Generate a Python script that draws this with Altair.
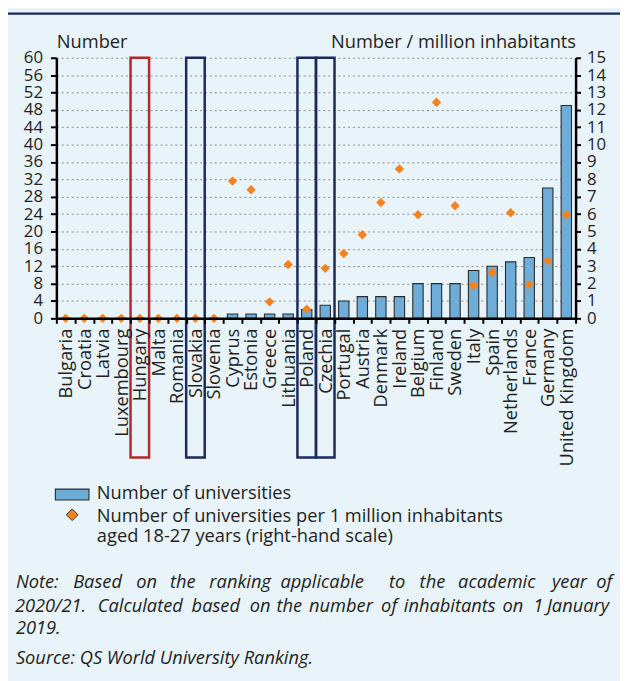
import altair as alt
import pandas as pd

# ---------------- data ----------------
countries = ["Bulgaria", "Croatia", "Latvia", "Luxembourg", "Hungary", "Malta",
             "Romania", "Slovakia", "Slovenia", "Cyprus", "Estonia", "Greece",
             "Lithuania", "Poland", "Czechia", "Portugal", "Austria", "Denmark",
             "Ireland", "Belgium", "Finland", "Sweden", "Italy", "Spain",
             "Netherlands", "France", "Germany", "United Kingdom"]
universities = [0, 0, 0, 0, 0, 0, 0, 0, 0, 1, 1, 1, 1, 2, 3, 4, 5, 5, 5,
                8, 8, 8, 11, 12, 13, 14, 30, 49]
per_million = [0, 0, 0, 0, 0, 0, 0, 0, 0, 7.9, 7.4, 0.95, 3.1, 0.53, 2.88,
               3.73, 4.81, 6.67, 8.6, 5.97, 12.44, 6.48, 1.89, 2.65, 6.08,
               1.95, 3.31, 5.97]
left_ticks = list(range(0, 61, 4))
right_ticks = list(range(0, 16))
red_boxed = ["Hungary"]
navy_boxed = ["Slovakia", "Poland", "Czechia"]

left_title = "Number"
right_title = "Number / million inhabitants"
legend_bar = "Number of universities"
legend_pt = ["Number of universities per 1 million inhabitants",
             "aged 18-27 years (right-hand scale)"]
note_line1 = ["Note:", "Based", "on", "the", "ranking", "applicable", "to",
              "the", "academic", "year", "of"]
note_line2 = ["2020/21.", "Calculated", "based", "on", "the", "number", "of",
              "inhabitants", "on", "1", "January"]
note_line3 = "2019."
source_line = "Source: QS World University Ranking."

df = pd.DataFrame({"country": countries, "universities": universities,
                   "per_million": per_million})

# ---------------- layout / style ----------------
W, H = 526, 264
PAD_L, PAD_T = 49, 46
VIEW_W, VIEW_H = 620, 673
PAD_R = VIEW_W - PAD_L - W
PAD_B = VIEW_H - PAD_T - H
BG = "#e8f3fa"
BAR = "#6fadd9"
ORANGE = "#f5821f"
NAVY = "#1b2a5e"
RED = "#b3282d"
TXT = "#231f20"
FONT = "Open Sans"
FS = 18.5
YFS = 17

x_enc = alt.X("country:N", sort=countries,
              scale=alt.Scale(paddingInner=0, paddingOuter=0),
              axis=alt.Axis(title=None, labelAngle=-90, labelFontSize=FS,
                            labelPadding=5, tickBand="extent", tickSize=5,
                            tickWidth=2, tickColor="black", domainColor="black",
                            domainWidth=2.5, labelColor=TXT, grid=False,
                            labelOverlap=False))

base = alt.Chart(df)

red_boxes = base.transform_filter(
    alt.FieldOneOfPredicate(field="country", oneOf=red_boxed)
).mark_rect(fillOpacity=0, stroke=RED, strokeWidth=2.5).encode(
    x=x_enc, y=alt.value(0), y2=alt.value(405))

navy_boxes = base.transform_filter(
    alt.FieldOneOfPredicate(field="country", oneOf=navy_boxed)
).mark_rect(fillOpacity=0, stroke=NAVY, strokeWidth=2.5).encode(
    x=x_enc, y=alt.value(0), y2=alt.value(405))

bars = base.mark_bar(size=10.5, color=BAR, stroke="#2b2b2b",
                     strokeWidth=1.1).encode(
    x=x_enc,
    y=alt.Y("universities:Q", scale=alt.Scale(domain=[0, 60], nice=False),
            axis=alt.Axis(values=left_ticks, title=left_title, titleAngle=0,
                          titleAlign="left", titleBaseline="alphabetic",
                          titleX=0, titleY=-10, titleFontSize=FS,
                          titleFontWeight="normal", titleColor=TXT,
                          grid=True, gridDash=[2, 3], gridColor="#8a8a8a",
                          gridWidth=1, domainColor="black", domainWidth=2.5,
                          tickColor="black", tickWidth=2, tickSize=6,
                          labelPadding=8, labelFontSize=YFS, labelColor=TXT,
                          labelOverlap=False, labelFlush=False)))

points = base.mark_point(shape="diamond", filled=True, size=90, color=ORANGE,
                         opacity=1).encode(
    x=x_enc,
    y=alt.Y("per_million:Q", scale=alt.Scale(domain=[0, 15], nice=False),
            axis=alt.Axis(orient="right", values=right_ticks, title=right_title,
                          titleAngle=0, titleAlign="right",
                          titleBaseline="alphabetic", titleX=0, titleY=-10,
                          titleFontSize=FS, titleFontWeight="normal",
                          titleColor=TXT, grid=False, domainColor="black",
                          domainWidth=2.5, tickColor="black", tickWidth=2,
                          tickSize=5, labelPadding=6, labelFontSize=YFS,
                          labelColor=TXT, labelOverlap=False,
                          labelFlush=False)))

one = pd.DataFrame({"k": [0]})


def text(s, x, y, size=FS, italic=False):
    return alt.Chart(pd.DataFrame({"t": [s]})).mark_text(
        align="left", baseline="alphabetic", font=FONT, fontSize=size,
        fontStyle="italic" if italic else "normal", color=TXT
    ).encode(x=alt.value(x), y=alt.value(y), text="t:N")


top_line = alt.Chart(one).mark_rule(color=NAVY, strokeWidth=2.5).encode(
    x=alt.value(-PAD_L), x2=alt.value(W + PAD_R), y=alt.value(-PAD_T + 1.3))

leg_swatch = alt.Chart(one).mark_rect(fill=BAR, stroke="#2b2b2b",
                                      strokeWidth=1.1).encode(
    x=alt.value(-1), x2=alt.value(33), y=alt.value(437), y2=alt.value(448))
leg_diamond = alt.Chart(one).mark_point(shape="diamond", filled=True, size=140,
                                        color=ORANGE, stroke="#333333",
                                        strokeWidth=1, opacity=1).encode(
    x=alt.value(16), y=alt.value(463))

layers = [top_line, red_boxes, navy_boxes, bars, points, leg_swatch,
          leg_diamond,
          text(legend_bar, 41, 447),
          text(legend_pt[0], 41, 470),
          text(legend_pt[1], 41, 491)]

# justified note lines: word start positions (absolute page px) -> plot px
NS = 18.5
line1_x = [16, 74, 138, 172, 212, 284, 394, 425, 464, 559, 604]
line2_x = [15, 99, 194, 253, 280, 313, 386, 409, 509, 540, 554]
for w, xa in zip(note_line1, line1_x):
    layers.append(text(w, xa - 57, 537, size=NS, italic=True))
for w, xa in zip(note_line2, line2_x):
    layers.append(text(w, xa - 57, 561, size=NS, italic=True))
layers.append(text(note_line3, 16 - 57, 584, size=NS, italic=True))
layers.append(text(source_line, 16 - 57, 614, size=NS, italic=True))

chart = alt.layer(*layers).resolve_scale(y="independent").properties(
    width=W, height=H,
    padding={"left": PAD_L, "top": PAD_T, "right": PAD_R, "bottom": PAD_B},
    autosize=alt.AutoSizeParams(type="none"),
    background=BG,
).configure_view(stroke=None).configure_axis(
    labelFont=FONT, titleFont=FONT
)

chart.save("out.html", embed_options={"renderer": "svg", "actions": False})
